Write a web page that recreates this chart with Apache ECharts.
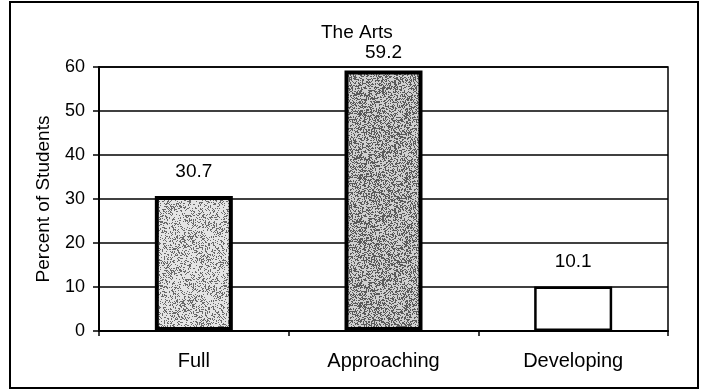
<!DOCTYPE html>
<html>
<head>
<meta charset="utf-8">
<script src="https://cdn.jsdelivr.net/npm/echarts@6/dist/echarts.min.js"></script>
<style>
html,body{margin:0;padding:0;background:#fff;}
#chart{width:702px;height:392px;}
</style>
</head>
<body>
<div id="chart"></div>
<script>
const categories = ["Full", "Approaching", "Developing"];
const values = [30.7, 59.2, 10.1];
const yTicks = [0, 10, 20, 30, 40, 50, 60];

const labelDist = [15, 8, 15];
const barBorders = [4, 4, 2.5];

// stipple texture (style only, deterministic)
function makeStipple(base, dark, density, seed) {
  const c = document.createElement('canvas');
  c.width = 64; c.height = 64;
  const g = c.getContext('2d');
  g.fillStyle = base; g.fillRect(0, 0, 64, 64);
  let s = seed;
  const next = () => { s = (s * 1103515245 + 12345) & 0x7fffffff; return s / 0x7fffffff; };
  g.fillStyle = dark;
  for (let y = 0; y < 64; y++) {
    for (let x = 0; x < 64; x++) {
      if (next() < density) g.fillRect(x, y, 1, 1);
    }
  }
  return c;
}
const fullFill = {image: makeStipple('#e4e4e4', '#6a6a6a', 0.28, 7), repeat: 'repeat'};
const appFill = {image: makeStipple('#d0d0d0', '#5a5a5a', 0.42, 13), repeat: 'repeat'};
const barFills = [fullFill, appFill, '#ffffff'];

const chart = echarts.init(document.getElementById('chart'), null, {renderer: 'canvas'});
const font = "Liberation Sans, Arial, sans-serif";

chart.setOption({
  animation: false,
  backgroundColor: '#fff',
  title: {
    text: 'The Arts',
    left: 316,
    top: 18,
    textStyle: {fontFamily: font, fontSize: 19, fontWeight: 'normal', color: '#000'}
  },
  grid: {
    left: 99, right: 34, top: 67, bottom: 61,
    show: true, borderColor: '#000', borderWidth: 1.5, backgroundColor: 'transparent'
  },
  xAxis: {
    type: 'category',
    data: categories,
    axisLine: {lineStyle: {color: '#000', width: 2}},
    axisTick: {show: true, length: 5, lineStyle: {color: '#000', width: 1.5}},
    axisLabel: {color: '#000', fontFamily: font, fontSize: 20, margin: 20}
  },
  yAxis: {
    type: 'value',
    min: yTicks[0],
    max: yTicks[yTicks.length - 1],
    interval: 10,
    name: 'Percent of Students',
    nameLocation: 'middle',
    nameGap: 46,
    nameTextStyle: {color: '#000', fontFamily: font, fontSize: 19},
    axisLine: {show: true, lineStyle: {color: '#000', width: 2}},
    axisTick: {show: true, length: 6, lineStyle: {color: '#000', width: 1.5}},
    axisLabel: {color: '#000', fontFamily: font, fontSize: 18, margin: 14},
    splitLine: {show: true, lineStyle: {color: '#000', width: 1.5}}
  },
  series: [{
    type: 'bar',
    barWidth: 78,
    data: values.map((v, i) => ({
      value: v,
      itemStyle: {color: barFills[i], borderColor: '#000', borderWidth: barBorders[i]},
      label: {distance: labelDist[i]}
    })),
    label: {
      show: true,
      position: 'top',
      color: '#000',
      fontFamily: font,
      fontSize: 19,
      formatter: p => p.value.toFixed(1)
    }
  }],
  graphic: [{
    type: 'rect',
    shape: {x: 10, y: 2, width: 688, height: 386},
    style: {fill: 'none', stroke: '#000', lineWidth: 2},
    silent: true
  }]
});
</script>
</body>
</html>
